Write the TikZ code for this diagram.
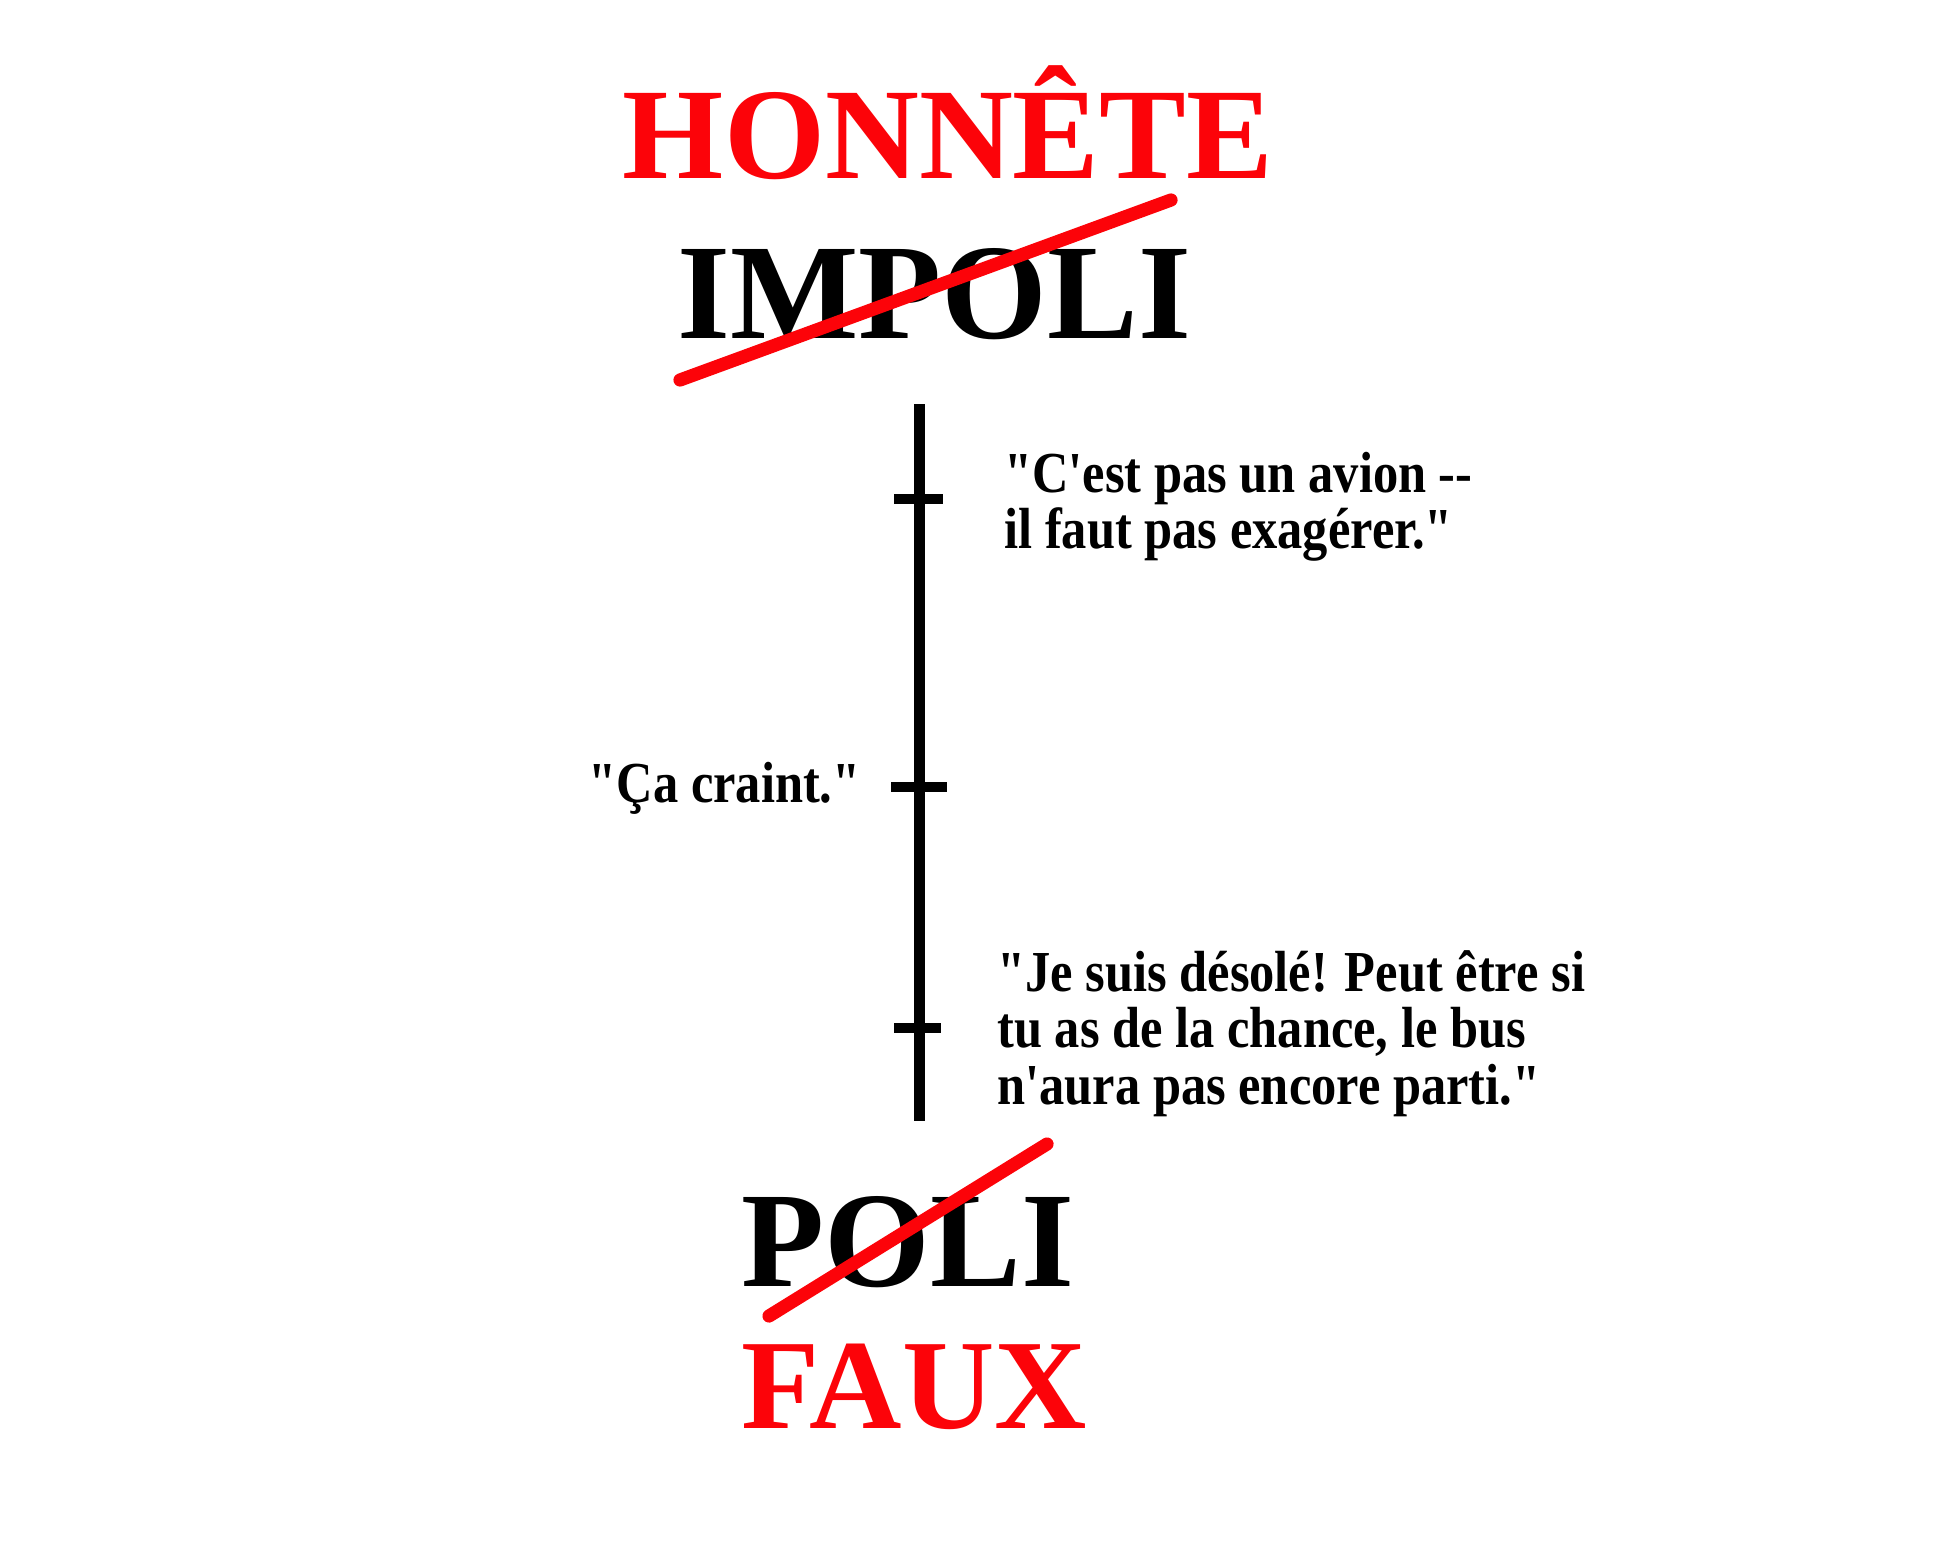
\documentclass[tikz,border=0pt]{standalone}
\usepackage{fontspec}
\setmainfont{Liberation Serif}
\newfontfamily\quotefont{Liberation Serif}[FakeStretch=0.87]
\definecolor{strikered}{RGB}{252,3,9}
\begin{document}
\begin{tikzpicture}[x=0.5pt,y=-0.5pt,
  heading/.style={inner sep=0pt,anchor=base,font=\bfseries\fontsize{#1}{#1}\selectfont},
  redhead/.style={heading=#1,text=strikered},
  quote/.style={inner sep=0pt,anchor=base west,font=\quotefont\bfseries\fontsize{29pt}{30pt}\selectfont},
  quoteR/.style={inner sep=0pt,anchor=base east,font=\quotefont\bfseries\fontsize{29pt}{30pt}\selectfont},
  strike/.style={draw=strikered,line width=6.6pt,line cap=round},
  axisline/.style={draw=black,line width=5.5pt},
  tickline/.style={draw=black,line width=4.7pt}]
\useasboundingbox (0,0) rectangle (1947,1542);
% headings
\node[redhead=65pt] (honnete) at (948,178) {HONNÊTE};
\node[heading=68pt] (impoli) at (934,338) {IMPOLI};
\node[heading=68pt] (poli) at (908,1286) {POLI};
\node[redhead=64pt] (faux) at (914,1428) {FAUX};
% strike-throughs
\coordinate (s1a) at (680,380);
\coordinate (s1b) at (1171,200);
\coordinate (s2a) at (769,1316);
\coordinate (s2b) at (1047,1144);
\draw[strike] (s1a) -- (s1b);
\draw[strike] (s2a) -- (s2b);
% axis
\coordinate (axtop) at (919,404);
\coordinate (axbot) at (919,1121);
\draw[axisline] (axtop) -- (axbot);
\coordinate (t1l) at (894,499); \coordinate (t1r) at (943,499);
\coordinate (t2l) at (891,787); \coordinate (t2r) at (947,787);
\coordinate (t3l) at (894,1028); \coordinate (t3r) at (941,1028);
\draw[tickline] (t1l) -- (t1r);
\draw[tickline] (t2l) -- (t2r);
\draw[tickline] (t3l) -- (t3r);
% quotes
\node[quote] (q1a) at (1004,492) {"C'est pas un avion --};
\node[quote] (q1b) at (1004,548) {il faut pas exagérer."};
\node[quoteR] (q2) at (861,802) {"Ça craint."};
\node[quote] (q3a) at (997,991) {"Je suis désolé! Peut être si};
\node[quote] (q3b) at (997,1047) {tu as de la chance, le bus};
\node[quote] (q3c) at (997,1104) {n'aura pas encore parti."};
\end{tikzpicture}
\end{document}
